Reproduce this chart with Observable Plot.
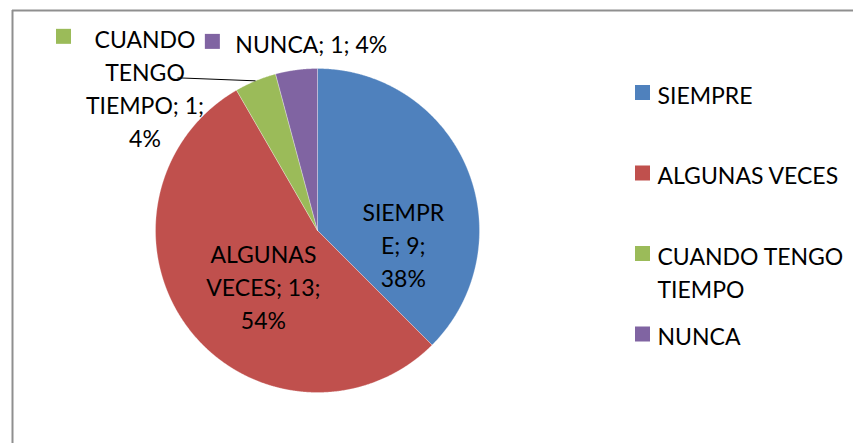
<!DOCTYPE html>
<html><head><meta charset="utf-8">
<script src="https://cdn.jsdelivr.net/npm/d3@7"></script>
<script src="https://cdn.jsdelivr.net/npm/@observablehq/plot@0.6"></script>
<style>body{margin:0;background:#fff}</style>
</head><body><div id="chart"></div>
<script>
// ---- data ----
const categories = ["SIEMPRE", "ALGUNAS VECES", "CUANDO TENGO TIEMPO", "NUNCA"];
const values = [9, 13, 1, 1];
const colors = ["#4F81BD", "#C0504D", "#9BBB59", "#8064A2"];
// data labels as wrapped in the original ("category; value; percent")
const dataLabelLines = [["SIEMPR", "E; 9;", "38%"], ["ALGUNAS", "VECES; 13;", "54%"], ["CUANDO", "TENGO", "TIEMPO; 1;", "4%"], ["NUNCA; 1; 4%"]];
const legendLines = [["SIEMPRE"], ["ALGUNAS VECES"], ["CUANDO TENGO", "TIEMPO"], ["NUNCA"]];

// ---- layout / style ----
const W = 853, H = 443;
const FONT = "Lato, 'Open Sans', sans-serif";
const FS = 23, LINE = 33;
const pieGeom = {cx: 317, cy: 230, r: 162};
// label placement: base point on mid-angle (radius factor), then pixel offsets
const labelLayout = [
  {rf: 0.6, dx: -4, dy: 50, anchor: "middle"},
  {rf: 0.6, dx: 23, dy: -4, anchor: "middle"},
  {rf: 1.0, dx: -110.5, dy: 6, anchor: "middle", key: {dx: -81, dy: -50}, leader: {dx: 32.5, dy: -9}},
  {rf: 1.0, dx: -61, dy: -27, anchor: "start", key: {dx: -22.5, dy: -1}}
];
const legendLayout = {x: 635, size: 15, textX: 657, y0: 92.5, step: 80.5};

const {cx, cy, r} = pieGeom;
const pt = (a, rad) => ({x: cx + rad * Math.sin(a), y: cy - rad * Math.cos(a)});
const arcs = d3.pie().sort(null).value(d => d)(values);

const slices = arcs.map((a, i) => {
  const n = Math.max(4, Math.ceil((a.endAngle - a.startAngle) / 0.004));
  const pts = [{x: cx, y: cy}];
  for (let k = 0; k <= n; k++) pts.push(pt(a.startAngle + (a.endAngle - a.startAngle) * k / n, r));
  pts.push({x: cx, y: cy});
  return pts;
});

const labels = arcs.map((a, i) => {
  const L = labelLayout[i];
  const mid = (a.startAngle + a.endAngle) / 2;
  const base = pt(mid, r * L.rf);
  return {x: base.x + L.dx, y: base.y + L.dy, text: dataLabelLines[i].join("\n"), anchor: L.anchor, edge: pt(mid, r), i};
});

const keys = labels.filter(d => labelLayout[d.i].key).map(d => {
  const k = labelLayout[d.i].key, s = legendLayout.size / 2;
  const x = d.x + k.dx, y = d.y + k.dy;
  return {x1: x - s, x2: x + s, y1: y - s, y2: y + s, color: colors[d.i]};
});

const leaders = labels.filter(d => labelLayout[d.i].leader).map(d => {
  const l = labelLayout[d.i].leader;
  return {x1: d.x + l.dx, y1: d.y + l.dy, x2: d.edge.x, y2: d.edge.y};
});

const legendSquares = categories.map((c, i) => {
  const y = legendLayout.y0 + i * legendLayout.step, s = legendLayout.size;
  return {x1: legendLayout.x, x2: legendLayout.x + s, y1: y - s / 2, y2: y + s / 2, color: colors[i]};
});
const legendText = categories.flatMap((c, i) => legendLines[i].map((t, j) => ({
  x: legendLayout.textX, y: legendLayout.y0 + i * legendLayout.step + j * LINE, text: t
})));

const textOpts = {fontFamily: FONT, fontSize: FS, fill: "#000", lineHeight: LINE / FS};

const chart = Plot.plot({
  width: W, height: H,
  margin: 0,
  x: {domain: [0, W], range: [0, W], axis: null},
  y: {domain: [0, H], range: [0, H], axis: null},
  style: {background: "#fff", overflow: "visible"},
  marks: [
    Plot.ruleY([10], {x1: 12, x2: W, stroke: "#8f8f8f", strokeWidth: 2}),
    Plot.ruleX([12], {y1: 10, y2: H, stroke: "#8f8f8f", strokeWidth: 2}),
    ...slices.map((pts, i) => Plot.line(pts, {x: "x", y: "y", fill: colors[i], stroke: "#ffffff", strokeOpacity: 0.5, strokeWidth: 0.6, curve: "linear"})),
    Plot.link(leaders, {x1: "x1", y1: "y1", x2: "x2", y2: "y2", stroke: "#000", strokeWidth: 1}),
    Plot.text(labels.filter(d => d.anchor === "middle"), {x: "x", y: "y", text: "text", textAnchor: "middle", lineAnchor: "middle", ...textOpts}),
    Plot.text(labels.filter(d => d.anchor === "start"), {x: "x", y: "y", text: "text", textAnchor: "start", lineAnchor: "middle", ...textOpts}),
    Plot.rect(keys, {x1: "x1", x2: "x2", y1: "y1", y2: "y2", fill: "color"}),
    Plot.rect(legendSquares, {x1: "x1", x2: "x2", y1: "y1", y2: "y2", fill: "color"}),
    Plot.text(legendText, {x: "x", y: "y", text: "text", textAnchor: "start", lineAnchor: "middle", ...textOpts})
  ]
});
document.getElementById("chart").appendChild(chart);
</script>
</body></html>
